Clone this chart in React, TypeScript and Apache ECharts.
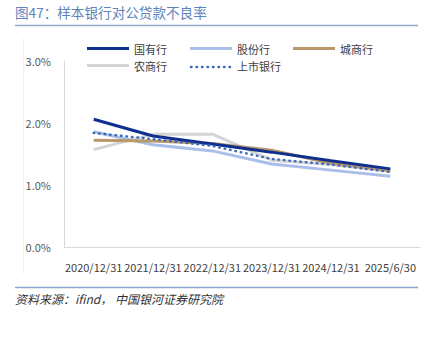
import React, { useEffect, useRef } from "react";
import * as echarts from "echarts";

const categories = ["2020/12/31", "2021/12/31", "2022/12/31", "2023/12/31", "2024/12/31", "2025/6/30"];
const stateOwned = [2.06, 1.79, 1.66, 1.53, 1.39, 1.26];
const jointStock = [1.86, 1.65, 1.55, 1.34, 1.24, 1.14];
const cityBanks = [1.72, 1.71, 1.67, 1.56, 1.35, 1.23];
const ruralBanks = [1.57, 1.82, 1.82, 1.40, 1.33, 1.22];
const listedBanks = [1.84, 1.74, 1.63, 1.42, 1.33, 1.21];
const yTicks = [0, 1, 2, 3];

const FONT = "'Noto Sans CJK SC', 'Noto Sans', sans-serif";

export default function App() {
  const ref = useRef<HTMLDivElement>(null);
  useEffect(() => {
    if (!ref.current) return;
    const chart = echarts.init(ref.current, null, { renderer: "svg" });
    const mk = (name: string, data: number[], color: string, width: number, type: any = "solid", z = 2) => ({
      name,
      type: "line",
      data,
      symbol: "none",
      z,
      lineStyle: { color, width, type, cap: type === "solid" ? "butt" : "round" },
      itemStyle: { color },
    });
    const legendCommon = {
      itemWidth: 42,
      itemHeight: 3,
      itemGap: 23,
      padding: 0,
      icon: "rect",
      textStyle: { fontSize: 11, color: "#404040", fontFamily: FONT },
    };
    chart.setOption({
      animation: false,
      textStyle: { fontFamily: FONT },
      grid: { left: 64, right: 4, top: 61, bottom: 90 },
      legend: [
        { ...legendCommon, left: 87, top: 43, data: ["国有行", "股份行", "城商行"] },
        {
          ...legendCommon,
          left: 87,
          top: 60,
          data: ["农商行", { name: "上市银行", itemStyle: { opacity: 0 } }],
        },
      ],
      xAxis: {
        type: "category",
        data: categories,
        boundaryGap: true,
        axisLine: { show: true, lineStyle: { color: "#d9d9d9", width: 1 } },
        axisTick: { show: false },
        axisLabel: { color: "#404040", fontSize: 11, margin: 14, interval: 0, fontFamily: FONT },
      },
      yAxis: {
        type: "value",
        min: yTicks[0],
        max: yTicks[yTicks.length - 1],
        interval: 1,
        axisLine: { show: true, lineStyle: { color: "#d9d9d9", width: 1 } },
        axisTick: { show: false },
        splitLine: { show: false },
        axisLabel: {
          color: "#595959",
          fontSize: 11,
          margin: 13,
          fontFamily: FONT,
          formatter: (v: number) => v.toFixed(1) + "%",
        },
      },
      series: [
        mk("国有行", stateOwned, "#0f2f8f", 3, "solid", 5),
        mk("股份行", jointStock, "#a9bee8", 3, "solid", 3),
        mk("城商行", cityBanks, "#b9986a", 3, "solid", 4),
        mk("农商行", ruralBanks, "#d4d4d4", 3, "solid", 2),
        mk("上市银行", listedBanks, "#3b68bd", 2.5, [0.5, 5], 6),
      ],
      graphic: [
        {
          type: "text",
          left: 15,
          top: 5,
          style: { text: "图47：样本银行对公贷款不良率", fill: "#6083bb", fontSize: 13.6, fontFamily: FONT },
        },
        { type: "line", shape: { x1: 15, y1: 25.5, x2: 418, y2: 25.5 }, style: { stroke: "#8ea6cf", lineWidth: 1.5 } },
        { type: "line", shape: { x1: 15, y1: 287.5, x2: 418, y2: 287.5 }, style: { stroke: "#8ea6cf", lineWidth: 1.5 } },
        { type: "line", shape: { x1: 23.5, y1: 38, x2: 23.5, y2: 274 }, style: { stroke: "#f2f2f2", lineWidth: 1 } },
        {
          type: "line",
          shape: { x1: 191, y1: 67, x2: 230, y2: 67 },
          style: { stroke: "#3b68bd", lineWidth: 2.5, lineDash: [0.5, 5], lineCap: "round" },
        },
        {
          type: "text",
          left: 15,
          top: 292,
          style: {
            text: "资料来源：ifind， 中国银河证券研究院",
            fill: "#333333",
            fontSize: 12,
            fontStyle: "italic",
            fontFamily: FONT,
          },
        },
      ],
    });
    return () => chart.dispose();
  }, []);
  return <div ref={ref} style={{ width: 424, height: 337, position: "absolute", left: 0, top: 0, background: "#fff" }} />;
}
